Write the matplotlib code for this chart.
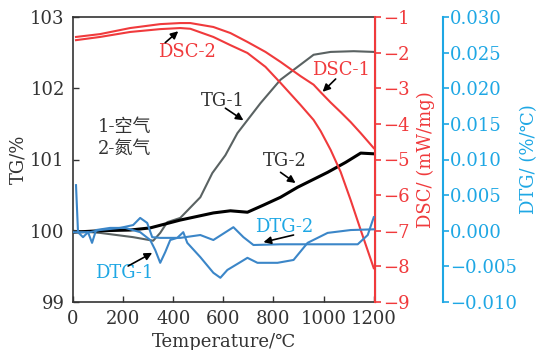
import numpy as np
import matplotlib
matplotlib.use("Agg")
import matplotlib.pyplot as plt
from matplotlib.ticker import FuncFormatter, MultipleLocator

plt.rcParams['font.family'] = ['DejaVu Serif', 'Noto Sans CJK SC']
plt.rcParams['axes.unicode_minus'] = True

# TG curves (temperature in degC, mass in %)
tg1_t = [0, 108, 240, 320, 348, 376, 428, 508, 556, 608, 656, 748, 828, 896, 960, 1028, 1120, 1200]
tg1_v = [100.0, 99.97, 99.91, 99.86, 99.97, 100.12, 100.18, 100.47, 100.81, 101.06, 101.37,
         101.79, 102.12, 102.30, 102.47, 102.51, 102.52, 102.51]
tg2_t = [0, 108, 228, 308, 428, 560, 628, 696, 760, 828, 896, 1016, 1088, 1148, 1200]
tg2_v = [99.98, 100.0, 100.01, 100.04, 100.15, 100.25, 100.28, 100.26, 100.36, 100.47,
         100.61, 100.82, 100.96, 101.09, 101.08]

# DSC curves (mW/mg)
dsc_t = [12, 108, 228, 348, 428, 468, 560, 628, 696, 768, 828, 908, 960, 988, 1028, 1068,
         1108, 1148, 1200]
dsc1_v = [-1.56, -1.48, -1.31, -1.20, -1.17, -1.17, -1.28, -1.45, -1.70, -1.98, -2.26,
          -2.66, -2.90, -3.11, -3.40, -3.67, -3.95, -4.26, -4.68]
dsc2_v = [-1.65, -1.56, -1.42, -1.34, -1.31, -1.33, -1.56, -1.79, -2.01, -2.40, -2.85,
          -3.47, -3.89, -4.20, -4.73, -5.35, -6.14, -6.98, -8.05]

# DTG curves (%/degC)
dtg1_t = [12, 20, 40, 60, 76, 92, 148, 208, 268, 308, 328, 348, 368, 388, 416, 440, 456,
          508, 560, 588, 616, 668, 696, 736, 816, 880, 936, 1016, 1108, 1200]
dtg1_v = [0.0064, -0.0002, -0.0009, -0.0002, -0.0017, 0.0001, 0.0004, 0.0004, -0.0002,
          -0.0013, -0.0027, -0.0045, -0.0030, -0.0013, -0.0010, -0.0002, -0.0017, -0.0037,
          -0.0059, -0.0066, -0.0055, -0.0044, -0.0038, -0.0045, -0.0045, -0.0041, -0.0017,
          -0.0003, 0.0001, 0.0002]
dtg2_t = [4, 28, 68, 108, 188, 240, 268, 296, 316, 348, 428, 508, 560, 640, 680, 720, 828,
          948, 1136, 1176, 1200]
dtg2_v = [-0.0002, -0.0002, -0.0002, 0.0001, 0.0004, 0.0008, 0.0018, 0.0011, -0.0009,
          -0.0010, -0.0010, -0.0006, -0.0013, 0.0005, -0.0009, -0.0020, -0.0019, -0.0019,
          -0.0019, -0.0006, 0.0019]

c_red = '#f03a3c'
c_blue_axis = '#1ea7e4'
c_blue = '#3b86c8'
c_gray = '#5a6262'
c_text = '#333333'

fig = plt.figure(figsize=(5.4, 3.5), dpi=100)
ax = fig.add_axes([73 / 540, 1 - 302 / 350, 302 / 540, 285 / 350])
ax2 = ax.twinx()
ax3 = ax.twinx()

ax.plot(tg1_t, tg1_v, color=c_gray, lw=1.5)
ax.plot(tg2_t, tg2_v, color='black', lw=2.2)
ax2.plot(dsc_t, dsc1_v, color=c_red, lw=1.5)
ax2.plot(dsc_t, dsc2_v, color=c_red, lw=1.5)
ax3.plot(dtg1_t, dtg1_v, color=c_blue, lw=1.5)
ax3.plot(dtg2_t, dtg2_v, color=c_blue, lw=1.5)

# main axis
ax.set_xlim(0, 1205)
ax.set_ylim(99, 103)
ax.xaxis.set_major_locator(MultipleLocator(200))
ax.yaxis.set_major_locator(MultipleLocator(1))
ax.tick_params(axis='both', direction='in', length=4, width=1, colors=c_text, labelsize=13)
ax.tick_params(axis='x', pad=6)
ax.tick_params(axis='y', pad=6)
for s in ['left', 'bottom', 'top']:
    ax.spines[s].set_color(c_text)
    ax.spines[s].set_linewidth(1.2)
ax.set_xlabel('Temperature/℃', fontsize=13, color=c_text, va='center')
ax.xaxis.set_label_coords(0.5, -0.14)
ax.set_ylabel('TG/%', fontsize=13, color=c_text, va='center')
ax.yaxis.set_label_coords(-0.18, 0.5)

# DSC axis
ax2.set_ylim(-9, -1)
ax2.yaxis.set_major_locator(MultipleLocator(1))
ax2.tick_params(axis='y', direction='out', length=4, width=1.2, colors=c_red, labelsize=13, pad=1.5)
for s in ['left', 'bottom', 'top']:
    ax2.spines[s].set_visible(False)
ax2.spines['right'].set_color(c_red)
ax2.spines['right'].set_linewidth(1.5)
ax2.set_ylabel('DSC/ (mW/mg)', fontsize=13, color=c_red, va='center')
ax2.yaxis.set_label_coords(1.168, 0.5)

# DTG axis
ax3.set_ylim(-0.010, 0.030)
ax3.yaxis.set_major_locator(MultipleLocator(0.005))
ax3.yaxis.set_major_formatter(FuncFormatter(
    lambda v, p: ('%.3f' % (0.0 if abs(v) < 1e-9 else v)).replace('-', '\u2212')))
ax3.spines['right'].set_position(('axes', 370 / 302))
for s in ['left', 'bottom', 'top']:
    ax3.spines[s].set_visible(False)
ax3.spines['right'].set_color(c_blue_axis)
ax3.spines['right'].set_linewidth(1.5)
ax3.tick_params(axis='y', direction='out', length=4, width=1.2, colors=c_blue_axis, labelsize=13, pad=1)
ax3.set_ylabel('DTG/ (%/℃)', fontsize=13, color=c_blue_axis, va='center')
ax3.yaxis.set_label_coords(1.51, 0.5)

# annotations (positions in TG data coordinates)
arrow = dict(arrowstyle='-|>', color='black', lw=1.2, mutation_scale=11, shrinkA=0, shrinkB=0)
notes = [
    ('DSC-2', c_red, (456, 102.51), (368, 102.64), (420, 102.80)),
    ('DSC-1', c_red, (1068, 102.26), (1048, 102.13), (996, 101.95)),
    ('TG-1', c_text, (600, 101.82), (608, 101.72), (680, 101.55)),
    ('TG-2', c_text, (844, 100.98), (828, 100.82), (888, 100.67)),
    ('DTG-1', c_blue_axis, (204, 99.41), (220, 99.505), (316, 99.69)),
    ('DTG-2', c_blue_axis, (844, 100.05), (880, 99.94), (760, 99.84)),
]
for label, col, txy, tail, head in notes:
    ax3.text(txy[0], txy[1], label, color=col, fontsize=13, ha='center', va='center',
             transform=ax.transData)
    ax3.annotate('', xy=head, xytext=tail, xycoords=ax.transData, textcoords=ax.transData,
                 arrowprops=arrow)

ax3.text(100, 101.46, '1-空气', color=c_text, fontsize=13, ha='left', va='center',
         transform=ax.transData)
ax3.text(100, 101.15, '2-氮气', color=c_text, fontsize=13, ha='left', va='center',
         transform=ax.transData)

fig.savefig('out.png', dpi=100)
